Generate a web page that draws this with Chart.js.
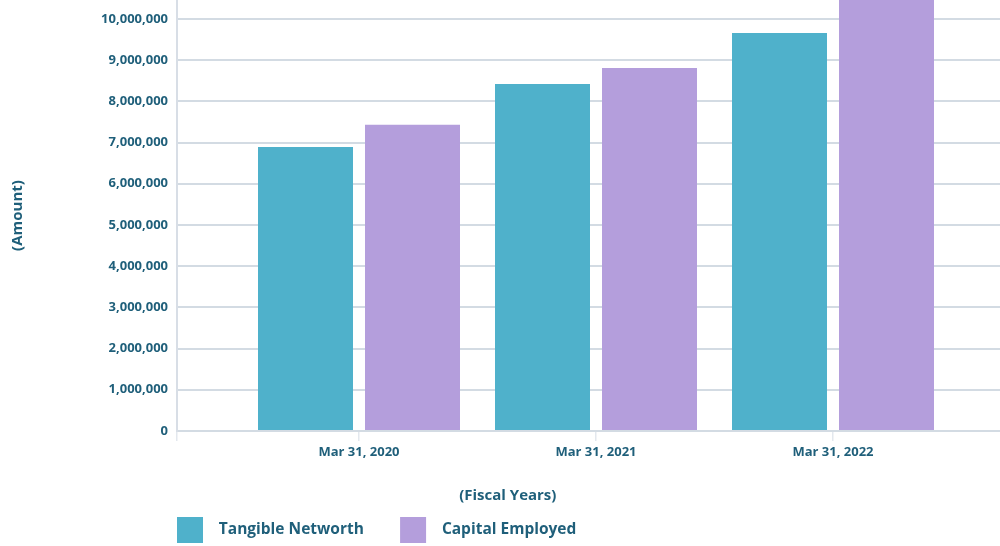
<!DOCTYPE html>
<html>
<head>
<meta charset="utf-8">
<script src="https://cdn.jsdelivr.net/npm/chart.js@4/dist/chart.umd.min.js"></script>
<style>
	html, body { margin: 0; padding: 0; background: #fff; }
	#wrap { width: 1000px; height: 546px; }
</style>
</head>
<body>
<div id="wrap"><canvas id="networth-graph"></canvas></div>
<script>
'use strict';

const years = ['Mar 31, 2020', 'Mar 31, 2021', 'Mar 31, 2022'];
const tangibleNetworth = [6890000, 8420000, 9660000];
const capitalEmployed = [7430000, 8810000, 10850000];
const yTicks = [0, 1000000, 2000000, 3000000, 4000000, 5000000, 6000000, 7000000, 8000000, 9000000, 10000000];
const yMax = 10460000;

const textColor = '#1f5f7a';
const gridColor = '#d3dbe3';

function toPoints(values) {
	return values.map((v, i) => {
		return { x: i, y: v };
	});
}

function composeNetworthGraph() {
	let chartData = {
		datasets: [
			{
				label: 'Tangible Networth',
				data: toPoints(tangibleNetworth),
				backgroundColor: '#4fb1cb'
			},
			{
				label: 'Capital Employed',
				data: toPoints(capitalEmployed),
				backgroundColor: '#b49edc'
			}
		]
	};

	// x is a linear scale so the first group can sit away from the y axis
	let xMin = -(359 - 177) / 237;
	let xMax = (1000 - 359) / 237;

	let ctx = document.getElementById('networth-graph');
	let chart = new Chart(ctx, {
		type: 'bar',
		data: chartData,
		options: {
			responsive: true,
			maintainAspectRatio: false,
			animation: false,
			layout: {
				padding: { left: 0, right: 0, top: 0, bottom: -7 }
			},
			datasets: {
				bar: {
					categoryPercentage: 214 / 182,
					barPercentage: 95 / 107
				}
			},
			scales: {
				x: {
					type: 'linear',
					min: xMin,
					max: xMax,
					offset: false,
					afterBuildTicks: (scale) => {
						scale.ticks = [xMin, 0, 1, 2].map((v) => ({ value: v }));
					},
					afterFit: (scale) => {
						scale.height = 34;
					},
					grid: {
						offset: false,
						drawOnChartArea: false,
						drawTicks: true,
						tickLength: 10,
						color: '#e3e8ee',
						lineWidth: 1.5
					},
					border: { display: false },
					ticks: {
						padding: 3,
						maxRotation: 0,
						autoSkip: false,
						color: textColor,
						font: { family: 'Open Sans', size: 13, weight: 'bold' },
						callback: (value) => {
							return Number.isInteger(value) && years[value] !== undefined ? years[value] : '';
						}
					}
				},
				y: {
					min: 0,
					max: yMax,
					afterBuildTicks: (scale) => {
						scale.ticks = yTicks.map((v) => ({ value: v }));
					},
					afterFit: (scale) => {
						scale.width = 177;
						scale.paddingTop = 0;
					},
					grid: {
						drawTicks: false,
						color: gridColor,
						lineWidth: 2
					},
					border: { color: '#d8dee6', width: 2 },
					ticks: {
						padding: 9,
						color: textColor,
						font: { family: 'Open Sans', size: 13, weight: 'bold' },
						callback: (value) => value.toLocaleString('en-US')
					},
					title: {
						display: true,
						text: '(Amount)',
						color: textColor,
						font: { family: 'Open Sans', size: 15, weight: 'bold' },
						padding: { top: 9, bottom: 0 }
					}
				}
			},
			plugins: {
				tooltip: { enabled: false },
				title: {
					display: true,
					position: 'bottom',
					weight: 500,
					text: '    (Fiscal Years)',
					color: textColor,
					font: { family: 'Open Sans', size: 15, weight: 'bold' },
					padding: { top: 22, bottom: 12 }
				},
				legend: {
					position: 'bottom',
					align: 'start',
					fullSize: false,
					labels: {
						boxWidth: 26,
						boxHeight: 26,
						padding: 0,
						color: textColor,
						font: { family: 'Open Sans', size: 15.5, weight: 'bold' },
						generateLabels: (c) => {
							let items = Chart.defaults.plugins.legend.labels.generateLabels(c);
							items.forEach((item, i) => {
								item.lineWidth = 0;
								item.text = '  ' + item.text + (i < items.length - 1 ? '         ' : '');
							});
							return items;
						}
					}
				}
			}
		}
	});

	return chart;
}

composeNetworthGraph();
</script>
</body>
</html>
